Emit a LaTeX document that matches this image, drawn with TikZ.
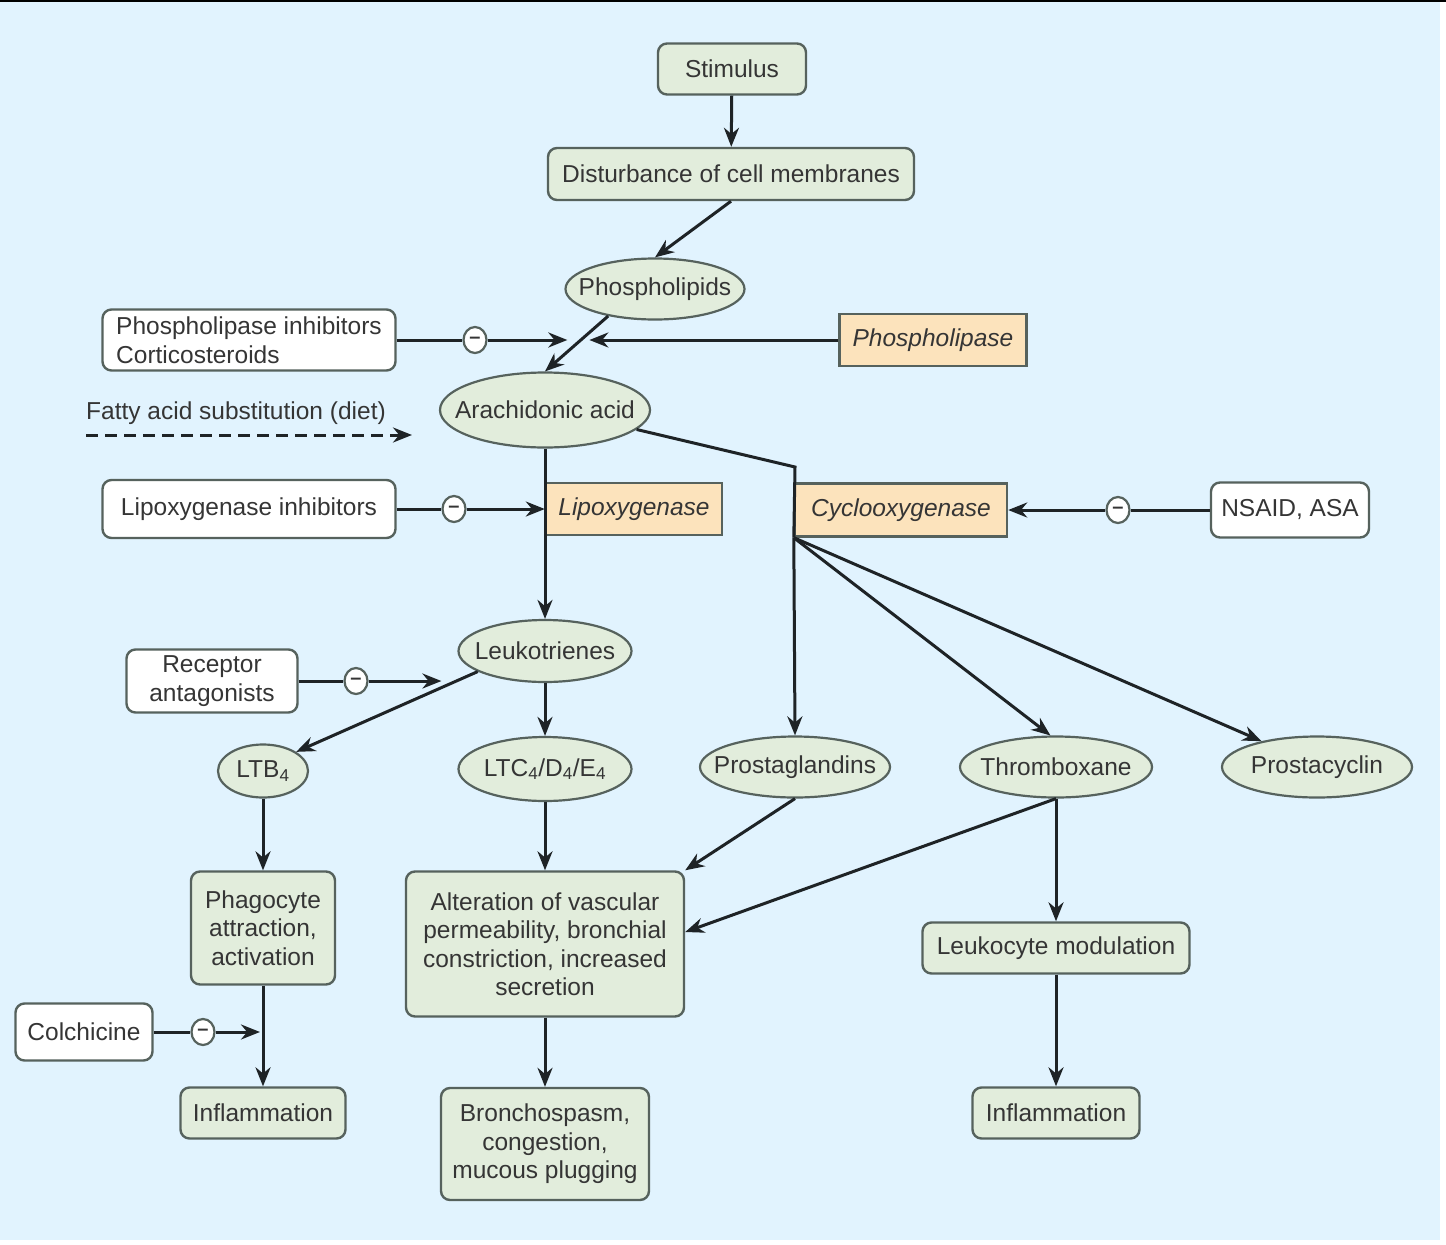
\documentclass[tikz,border=0pt]{standalone}
\usepackage{fontspec}
\setmainfont{Liberation Sans}
\usetikzlibrary{shapes.geometric,arrows.meta}
\definecolor{sky}{HTML}{E1F3FE}
\definecolor{leaf}{HTML}{E2EDDC}
\definecolor{peach}{HTML}{FCE3BC}
\definecolor{edge}{HTML}{56625D}
\definecolor{ink}{HTML}{1E2326}
\definecolor{txt}{HTML}{353535}
\newcommand{\lbl}{\fontsize{24.5}{28.5}\selectfont}
\newcommand{\minussign}{\raisebox{-2.5pt}{--}}

\begin{document}
\begin{tikzpicture}[x=1pt, y=-1pt, every node/.style={font=\lbl, text=txt}]
        \tikzstyle{box}=[rectangle, rounded corners=9pt, draw=edge, line width=2.4pt, fill=leaf, inner sep=0pt]
        \tikzstyle{drug}=[box, fill=white]
        \tikzstyle{enzyme}=[rectangle, draw=edge, line width=2.4pt, fill=peach, inner sep=0pt, font=\lbl\itshape]
        \tikzstyle{blob}=[ellipse, draw=edge, line width=2.2pt, fill=leaf, inner ysep=0pt, inner xsep=-45pt]
        \tikzstyle{minus}=[ellipse, draw=edge, line width=2.2pt, fill=white, minimum width=23pt, minimum height=26pt, inner sep=0pt, font=\fontsize{20}{20}\selectfont\bfseries]
        \tikzstyle{link}=[line width=3pt, draw=ink]
        \tikzstyle{arrow}=[link, -{Stealth[length=19pt, width=15pt]}]

        % background
        \fill[white] (0,0) rectangle (1446,1245);
        \fill[sky] (0,0) rectangle (1440,1240);
        \fill[black] (0,0) rectangle (1446,2);
        \useasboundingbox (0,0) rectangle (1446,1245);

        % cascade
        \node[box, minimum width=148, minimum height=51] (stim) at (732,69) {Stimulus};
        \node[box, minimum width=366, minimum height=52] (dist) at (731,174) {Disturbance of cell membranes};
        \node[blob, minimum width=179, minimum height=61] (plip) at (655,289) {Phospholipids};
        \node[drug, minimum width=293, minimum height=61, align=left] (plinh) at (249,340) {Phospholipase inhibitors\\Corticosteroids};
        \node[enzyme, minimum width=187, minimum height=52] (plase) at (933,340) {Phospholipase};
        \node[minus] (m1) at (475,340) {\minussign};
        \node[blob, minimum width=210, minimum height=75] (arach) at (545,410) {Arachidonic acid};
        \node[anchor=west, inner sep=0pt] (fatty) at (86,413) {Fatty acid substitution (diet)};
        \coordinate (fattyend) at (412,435);

        \node[drug, minimum width=293, minimum height=58] (lxinh) at (249,509) {Lipoxygenase inhibitors};
        \node[minus] (m2) at (454,509) {\minussign};
        \node[enzyme, minimum width=176, minimum height=52] (lox) at (634,509) {Lipoxygenase};
        \node[enzyme, minimum width=212, minimum height=53] (cox) at (901,510) {Cyclooxygenase};
        \node[minus] (m3) at (1118,510) {\minussign};
        \node[drug, minimum width=158, minimum height=55] (nsaid) at (1290,510) {NSAID, ASA};
        \coordinate (bend) at (795,467);

        \node[blob, minimum width=173, minimum height=62] (ltr) at (545,651) {Leukotrienes};
        \node[drug, minimum width=171, minimum height=63, align=center] (recep) at (212,681) {Receptor\\antagonists};
        \node[minus] (m4) at (356,681) {\minussign};

        \node[blob, minimum width=90, minimum height=53] (ltb) at (263,771) {LTB\textsubscript{4}};
        \node[blob, minimum width=173, minimum height=64] (ltc) at (545,769) {LTC\textsubscript{4}/D\textsubscript{4}/E\textsubscript{4}};
        \node[blob, minimum width=190, minimum height=61] (pg) at (795,767) {Prostaglandins};
        \node[blob, minimum width=192, minimum height=61] (tx) at (1056,767) {Thromboxane};
        \node[blob, minimum width=190, minimum height=61] (pc) at (1317,767) {Prostacyclin};

        \node[box, minimum width=144, minimum height=113, align=center] (phago) at (263,928) {Phagocyte\\attraction,\\activation};
        \node[box, minimum width=278, minimum height=145, align=center] (vasc) at (545,944) {Alteration of vascular\\permeability, bronchial\\constriction, increased\\secretion};
        \node[box, minimum width=267, minimum height=51] (leuko) at (1056,948) {Leukocyte modulation};

        \node[drug, minimum width=137, minimum height=57] (colch) at (84,1032) {Colchicine};
        \node[minus] (m5) at (203,1032) {\minussign};
        \node[box, minimum width=165, minimum height=51] (infl1) at (263,1113) {Inflammation};
        \node[box, minimum width=208, minimum height=112, align=center] (broncho) at (545,1144) {Bronchospasm,\\congestion,\\mucous plugging};
        \node[box, minimum width=167, minimum height=51] (infl2) at (1056,1113) {Inflammation};

        % connectors
        \draw[arrow] (stim) -- (dist);
        \draw[arrow] (dist.south) -- (plip.north);
        \draw[arrow] (plip.210) -- coordinate[pos=0.456] (hit) (arach.north);
        \draw[link] (plinh) -- (m1);
        \draw[arrow, shorten >=12pt] (m1) -- (m1 -| hit);
        \draw[arrow, shorten >=10pt] (plase) -- (plase -| hit);
        \draw[arrow, dash pattern=on 12pt off 7pt] (fatty.south west |- fattyend) -- (fattyend);

        \draw[arrow] (arach) -- (ltr);
        \draw[link] (lxinh) -- (m2);
        \draw[arrow] (m2) -- (lox);
        \draw[link] (arach.-12) -- (bend) -- (cox.south west);
        \draw[link] (nsaid) -- (m3);
        \draw[arrow] (m3) -- (cox);
        \draw[arrow] (cox.south west) -- (pg.north);
        \draw[arrow] (cox.south west) -- (tx.100);
        \draw[arrow] (cox.south west) -- (pc.155);

        \draw[arrow] (ltr) -- (ltc);
        \draw[arrow] (ltr.197) -- coordinate[pos=0.134] (hit2) (ltb.30);
        \draw[link] (recep) -- (m4);
        \draw[arrow, shorten >=12pt] (m4) -- (m4 -| hit2);

        \draw[arrow] (ltb) -- (phago);
        \draw[arrow] (phago) -- (infl1);
        \draw[link] (colch) -- (m5);
        \draw[arrow, shorten >=3pt] (m5) -- (m5 -| phago.south);

        \draw[arrow] (ltc) -- (vasc);
        \draw[arrow] (pg.south) -- (vasc.north east);
        \draw[arrow] (tx.south) -- ([yshift=12pt]vasc.east);
        \draw[arrow] (vasc) -- (broncho);
        \draw[arrow] (tx) -- (leuko);
        \draw[arrow] (leuko) -- (infl2);
    \end{tikzpicture}
\end{document}
